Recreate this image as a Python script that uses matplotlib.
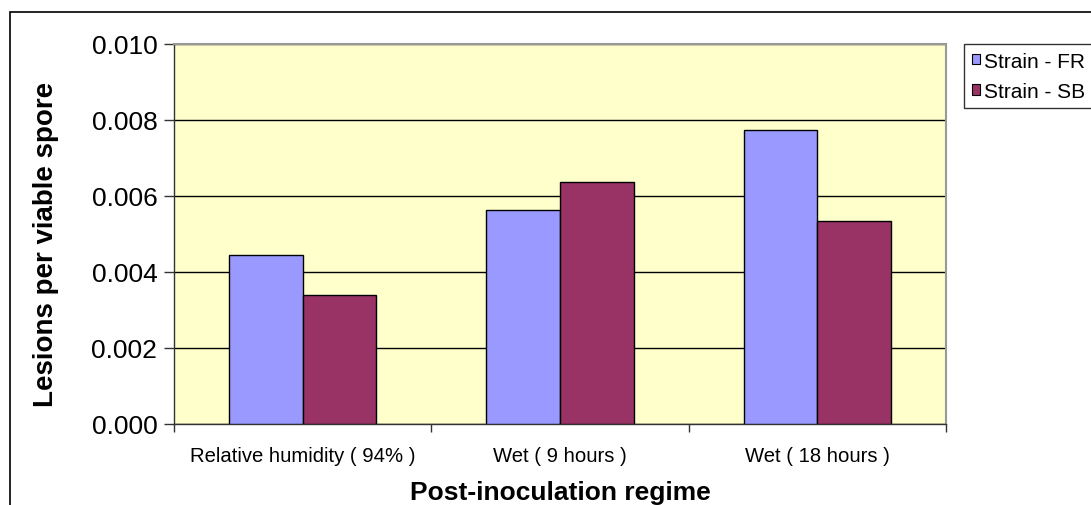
import matplotlib
matplotlib.use("Agg")
import matplotlib.pyplot as plt
from matplotlib.patches import Rectangle, Patch
import numpy as np

plt.rcParams['font.family'] = ['Liberation Sans', 'DejaVu Sans']

# Data
categories = ["Relative humidity ( 94% )", "Wet ( 9 hours )", "Wet ( 18 hours )"]
series_names = ["Strain - FR", "Strain - SB"]
strain_fr = [0.00445, 0.00563, 0.00774]
strain_sb = [0.00339, 0.00637, 0.00535]
y_ticks = [0.000, 0.002, 0.004, 0.006, 0.008, 0.010]

color_fr = "#9999FF"
color_sb = "#993366"
plot_bg = "#FFFFCC"

W, H = 1091, 506
fig = plt.figure(figsize=(W / 100, H / 100), dpi=100)
fig.patch.set_facecolor("white")

# Outer chart border
fig.add_artist(Rectangle((10 / W, -0.5), 2.0, 1.5 - 13 / H,
                         transform=fig.transFigure, fill=False,
                         ec="black", lw=1.2, zorder=0))

left, right, top, bottom = 174, 946, 45, 425
ax = fig.add_axes([left / W, 1 - bottom / H, (right - left) / W, (bottom - top) / H])
ax.set_facecolor(plot_bg)

x = np.arange(len(categories))
bw = 1 / 3.5
ax.bar(x - bw / 2, strain_fr, bw, color=color_fr, edgecolor="black", lw=1.0, zorder=3)
ax.bar(x + bw / 2, strain_sb, bw, color=color_sb, edgecolor="black", lw=1.0, zorder=3)

ax.set_xlim(-0.5, len(categories) - 0.5)
ax.set_ylim(0, 0.010)

# Gridlines
ax.set_yticks(y_ticks)
ax.set_yticklabels([f"{v:.3f}" for v in y_ticks], fontsize=19)
ax.yaxis.grid(True, color="black", lw=1.0, zorder=1)
ax.set_axisbelow(True)
ax.tick_params(axis="y", direction="out", length=7, width=1, color="#333333", pad=5)

# Category labels centred, tick marks at category boundaries
ax.set_xticks(x)
ax.set_xticklabels(categories, fontsize=14.6)
ax.tick_params(axis="x", which="major", length=0, pad=16)
ax.set_xticks(np.arange(-0.5, len(categories)), minor=True)
ax.tick_params(axis="x", which="minor", direction="out", length=6, width=1, color="#333333")

for s in ["left", "bottom"]:
    ax.spines[s].set_color("#333333")
    ax.spines[s].set_linewidth(1.0)
for s in ["right", "top"]:
    ax.spines[s].set_color("#999999")
    ax.spines[s].set_linewidth(1.5)

ax.set_xlabel("Post-inoculation regime", fontsize=19, fontweight="bold")
ax.xaxis.set_label_coords(0.5, -0.148)
ax.set_ylabel("Lesions per viable spore", fontsize=20, fontweight="bold")
ax.yaxis.set_label_coords(-0.149, 0.476)

handles = [Patch(facecolor=color_fr, edgecolor="black", lw=0.8),
           Patch(facecolor=color_sb, edgecolor="black", lw=0.8)]
leg = fig.legend(handles, series_names, loc="upper left",
                 bbox_to_anchor=(964 / W, 1 - 45 / H),
                 fontsize=15, frameon=True, fancybox=False, shadow=False,
                 handlelength=0.4, handleheight=0.4, handletextpad=0.18,
                 borderpad=0.36, labelspacing=0.55, borderaxespad=0)
leg.get_frame().set_edgecolor("black")
leg.get_frame().set_linewidth(1.0)

fig.savefig("out.png", dpi=100)
